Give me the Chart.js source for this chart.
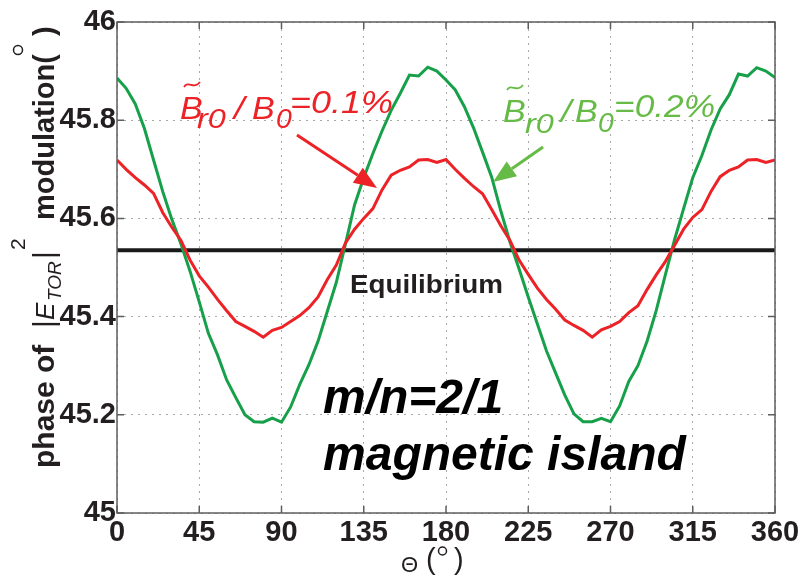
<!DOCTYPE html>
<html><head><meta charset="utf-8">
<script src="https://cdn.jsdelivr.net/npm/chart.js@4.4.1/dist/chart.umd.min.js"></script>
<style>html,body{margin:0;padding:0;background:#fff;}#wrap{width:804px;height:576px;}</style>
</head><body><div id="wrap"><canvas id="c" width="804" height="576"></canvas></div>
<script>
// ---- data ----
const THETA = [0,5,10,15,20,25,30,35,40,45,50,55,60,65,70,75,80,85,90,95,100,105,110,115,120,125,130,135,140,145,150,155,160,165,170,175,180,185,190,195,200,205,210,215,220,225,230,235,240,245,250,255,260,265,270,275,280,285,290,295,300,305,310,315,320,325,330,335,340,345,350,355,360];
const RED_01 = [45.719,45.700,45.683,45.668,45.651,45.612,45.582,45.555,45.515,45.483,45.460,45.435,45.412,45.390,45.380,45.370,45.358,45.372,45.378,45.390,45.402,45.418,45.440,45.475,45.505,45.550,45.578,45.600,45.620,45.658,45.688,45.698,45.705,45.719,45.720,45.714,45.720,45.700,45.682,45.665,45.650,45.618,45.585,45.555,45.515,45.486,45.458,45.435,45.415,45.393,45.382,45.372,45.358,45.373,45.380,45.390,45.408,45.422,45.455,45.485,45.512,45.545,45.578,45.602,45.618,45.655,45.685,45.698,45.705,45.719,45.720,45.714,45.719];
const GREEN_02 = [45.886,45.865,45.833,45.783,45.719,45.655,45.598,45.548,45.492,45.430,45.366,45.322,45.271,45.235,45.200,45.186,45.185,45.193,45.185,45.216,45.262,45.302,45.350,45.410,45.470,45.548,45.628,45.683,45.732,45.778,45.820,45.855,45.892,45.890,45.908,45.900,45.882,45.862,45.828,45.785,45.735,45.684,45.615,45.552,45.497,45.440,45.385,45.330,45.285,45.240,45.202,45.186,45.186,45.193,45.186,45.218,45.268,45.300,45.350,45.412,45.485,45.556,45.620,45.683,45.728,45.780,45.823,45.852,45.894,45.890,45.907,45.900,45.887];
const EQ_THETA = [0, 360];
const EQ_VALUE = [45.535, 45.535];
const X_TICKS = [0,45,90,135,180,225,270,315,360];
const X_TICK_LABELS = ['0','45','90','135','180','225','270','315','360'];
const Y_TICKS = [45,45.2,45.4,45.6,45.8,46];
const Y_TICK_LABELS = ['45','45.2','45.4','45.6','45.8','46'];

const pts = (xs, ys) => xs.map((x, i) => ({x: x, y: ys[i]}));
const FONT = '"Liberation Sans", Arial, Helvetica, sans-serif';
const INK = '#231f20';
const RED = '#ec2227';
const GREEN = '#17a04a';
const GREEN_TXT = '#66bb46';

function txt(ctx, s, x, y, font, color, sx) {
  ctx.save();
  ctx.font = font; ctx.fillStyle = color; ctx.textBaseline = 'alphabetic'; ctx.textAlign = 'left';
  ctx.translate(x, y); ctx.scale(sx || 1, 1);
  ctx.fillText(s, 0, 0);
  ctx.restore();
}
function tilde(ctx, x, y, color) {
  ctx.save(); ctx.strokeStyle = color; ctx.lineWidth = 1.8;
  ctx.beginPath(); ctx.moveTo(x, y + 4); ctx.bezierCurveTo(x + 4, y - 3, x + 10, y + 7, x + 16, y - 1); ctx.stroke();
  ctx.restore();
}
function arrow(ctx, x1, y1, x2, y2, color) {
  const a = Math.atan2(y2 - y1, x2 - x1), L = 23, W = 9;
  const bx = x2 - L * Math.cos(a), by = y2 - L * Math.sin(a);
  ctx.save(); ctx.strokeStyle = color; ctx.fillStyle = color; ctx.lineWidth = 3;
  ctx.beginPath(); ctx.moveTo(x1, y1); ctx.lineTo(bx, by); ctx.stroke();
  ctx.beginPath(); ctx.moveTo(x2, y2);
  ctx.lineTo(bx + W * Math.sin(a), by - W * Math.cos(a));
  ctx.lineTo(bx - W * Math.sin(a), by + W * Math.cos(a));
  ctx.closePath(); ctx.fill();
  ctx.restore();
}

const decor = {
  id: 'decor',
  afterDraw(chart) {
    const ctx = chart.ctx, a = chart.chartArea, xs = chart.scales.x, ys = chart.scales.y;
    // box + inward ticks
    ctx.save();
    ctx.strokeStyle = '#5e5e5e'; ctx.lineWidth = 1.5;
    ctx.strokeRect(a.left, a.top, a.right - a.left, a.bottom - a.top);
    ctx.beginPath();
    X_TICKS.forEach(v => { const p = xs.getPixelForValue(v);
      ctx.moveTo(p, a.bottom); ctx.lineTo(p, a.bottom - 7);
      ctx.moveTo(p, a.top); ctx.lineTo(p, a.top + 7); });
    Y_TICKS.forEach(v => { const p = ys.getPixelForValue(v);
      ctx.moveTo(a.left, p); ctx.lineTo(a.left + 7, p);
      ctx.moveTo(a.right, p); ctx.lineTo(a.right - 7, p); });
    ctx.stroke();
    ctx.restore();

    // red label
    const LF = 'italic 31px ' + FONT, SF = 'italic 27px ' + FONT;
    tilde(ctx, 184, 83, RED);
    txt(ctx, 'B', 180, 119, LF, RED, 1.1);
    txt(ctx, 'r0', 197, 128, SF, RED, 1.2);
    txt(ctx, '/', 234, 119, LF, RED, 1.2);
    txt(ctx, 'B', 252, 119, LF, RED, 1.1);
    txt(ctx, '0', 276, 128, SF, RED, 1.05);
    txt(ctx, '=0.1%', 290, 113, LF, RED, 1.16);
    arrow(ctx, 297, 135, 377, 188, RED);

    // green label
    tilde(ctx, 507, 86, GREEN_TXT);
    txt(ctx, 'B', 503, 122, LF, GREEN_TXT, 1.1);
    txt(ctx, 'r0', 525, 133, SF, GREEN_TXT, 1.2);
    txt(ctx, '/', 561, 122, LF, GREEN_TXT, 1.2);
    txt(ctx, 'B', 575, 122, LF, GREEN_TXT, 1.1);
    txt(ctx, '0', 598, 132, SF, GREEN_TXT, 1.05);
    txt(ctx, '=0.2%', 614, 117, LF, GREEN_TXT, 1.14);
    arrow(ctx, 543, 147, 493, 182, GREEN_TXT);

    // Equilibrium & island text
    txt(ctx, 'Equilibrium', 350, 293, 'bold 26px ' + FONT, INK, 1.07);
    txt(ctx, 'm/n=2/1', 323, 413, 'italic bold 48px ' + FONT, '#000', 1.0);
    txt(ctx, 'magnetic island', 323, 470, 'italic bold 48px ' + FONT, '#000', 1.0);

    // x-axis title  Θ(°)
    txt(ctx, 'Θ', 401, 572, '22px ' + FONT, INK, 1.0);
    txt(ctx, '(', 426, 569, '29px ' + FONT, INK, 1.0);
    txt(ctx, ')', 454, 569, '29px ' + FONT, INK, 1.0);
    ctx.save(); ctx.strokeStyle = INK; ctx.lineWidth = 1.5;
    ctx.beginPath(); ctx.arc(442.5, 551, 4, 0, Math.PI * 2); ctx.stroke(); ctx.restore();

    // y-axis title (rotated)
    ctx.save();
    ctx.translate(54, 468); ctx.rotate(-Math.PI / 2);
    const yt = (s, fx, fy, font) => { ctx.font = font; ctx.fillStyle = INK; ctx.textBaseline = 'alphabetic'; ctx.textAlign = 'left'; ctx.fillText(s, fx, fy); };
    yt('phase of', 0, 0, 'bold 30px ' + FONT);
    yt('|', 140, 0, '30px ' + FONT);
    yt('E', 148, 0, 'italic 26px ' + FONT);
    yt('TOR', 167, 7, 'italic 19px ' + FONT);
    yt('|', 209, 0, '30px ' + FONT);
    yt('2', 218, -29, '21px ' + FONT);
    yt('modulation(', 248, 0, 'bold 29px ' + FONT);
    yt(')', 432, 0, 'bold 29px ' + FONT);
    ctx.strokeStyle = INK; ctx.lineWidth = 1.5;
    ctx.beginPath(); ctx.arc(418, -36, 4.5, 0, Math.PI * 2); ctx.stroke();
    ctx.restore();
  }
};

new Chart(document.getElementById('c'), {
  type: 'line',
  data: {
    datasets: [
      { label: 'Br0/B0=0.1%', data: pts(THETA, RED_01), borderColor: RED, borderWidth: 3, pointRadius: 0, tension: 0, fill: false },
      { label: 'Br0/B0=0.2%', data: pts(THETA, GREEN_02), borderColor: GREEN, borderWidth: 3, pointRadius: 0, tension: 0, fill: false },
      { label: 'Equilibrium', data: pts(EQ_THETA, EQ_VALUE), borderColor: '#1a1a1a', borderWidth: 4, pointRadius: 0, tension: 0, fill: false }
    ]
  },
  options: {
    responsive: false, animation: false, devicePixelRatio: 1,
    layout: { padding: { left: 0, right: 29, top: 22, bottom: 0 } },
    plugins: { legend: { display: false }, tooltip: { enabled: false } },
    scales: {
      x: {
        type: 'linear', min: 0, max: 360,
        afterBuildTicks: s => { s.ticks = X_TICKS.map(v => ({ value: v })); },
        afterFit: s => { s.height = 63; },
        ticks: { autoSkip: false, maxRotation: 0, padding: 3, color: INK,
          font: { family: FONT, size: 29, weight: 'bold' },
          callback: v => { const i = X_TICKS.indexOf(v); return i >= 0 ? X_TICK_LABELS[i] : ''; } },
        grid: { color: '#a8a8a8', lineWidth: 1, drawTicks: false },
        border: { display: false, dash: [2, 5] }
      },
      y: {
        type: 'linear', min: 45, max: 46,
        afterBuildTicks: s => { s.ticks = Y_TICKS.map(v => ({ value: v })); },
        afterFit: s => { s.width = 117; },
        ticks: { autoSkip: false, padding: 1, color: INK,
          font: { family: FONT, size: 29, weight: 'bold' },
          callback: v => { const i = Y_TICKS.findIndex(t => Math.abs(t - v) < 1e-6); return i >= 0 ? Y_TICK_LABELS[i] : ''; } },
        grid: { color: '#a8a8a8', lineWidth: 1, drawTicks: false },
        border: { display: false, dash: [2, 5] }
      }
    }
  },
  plugins: [decor]
});
</script></body></html>
